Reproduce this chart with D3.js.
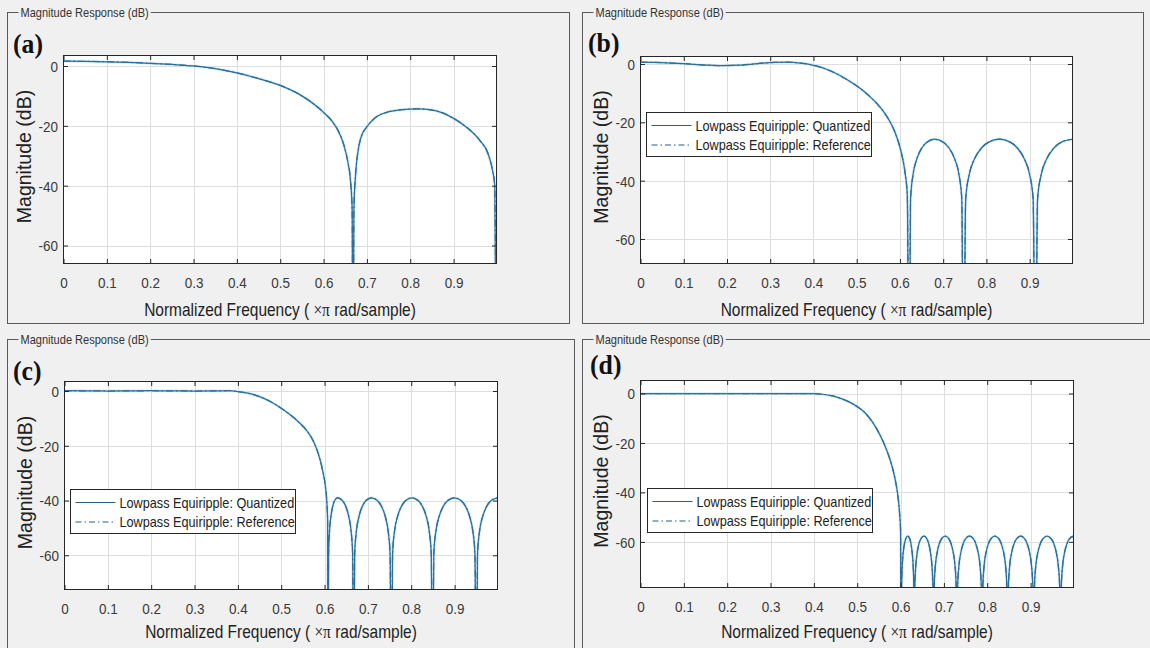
<!DOCTYPE html>
<html><head><meta charset="utf-8">
<script src="https://cdn.jsdelivr.net/npm/d3@7"></script>
<style>html,body{margin:0;padding:0;background:#f0f0f0;} svg{display:block;}</style>
</head><body>
<script>
// ---------- data ----------
const xTicks = [0, 0.1, 0.2, 0.3, 0.4, 0.5, 0.6, 0.7, 0.8, 0.9];
const xTickLabels = ["0", "0.1", "0.2", "0.3", "0.4", "0.5", "0.6", "0.7", "0.8", "0.9"];
const yTicks = [0, -20, -40, -60];
const yTickLabels = ["0", "-20", "-40", "-60"];
const panelLabels = ["(a)", "(b)", "(c)", "(d)"];
const frameTitle = "Magnitude Response (dB)";
const yAxisTitle = "Magnitude (dB)";
const legendLabels = ["Lowpass Equiripple: Quantized", "Lowpass Equiripple: Reference"];

// panel (a)
const freqA = [0, 0.05, 0.1, 0.15, 0.2, 0.25, 0.3, 0.35, 0.4, 0.45,
  0.5, 0.55, 0.6, 0.62, 0.635, 0.647, 0.656, 0.662, 0.666, 0.668,
  0.670, 0.674, 0.679, 0.686, 0.7, 0.72, 0.75, 0.78, 0.82, 0.86,
  0.9, 0.93, 0.96, 0.98, 0.99, 0.995, 0.999];
const magA = [1.6, 1.55, 1.4, 1.2, 0.9, 0.5, 0, -0.9, -2.3, -4.2,
  -6.5, -10, -15.5, -18.5, -22, -26.5, -32, -38, -48, -120,
  -48, -36, -29, -24, -20.3, -17.2, -15.3, -14.6, -14.3, -15,
  -17.5, -20.5, -24.8, -29.5, -35, -40, -120];

// panel (b)
const freqB = [0, 0.05, 0.1, 0.15, 0.19, 0.23, 0.27, 0.31, 0.34, 0.37,
  0.39, 0.41, 0.43, 0.45, 0.47, 0.49, 0.51, 0.53, 0.55, 0.565,
  0.577, 0.588, 0.598, 0.606, 0.612, 0.617, 0.621,
  0.6245, 0.6304, 0.6387, 0.6505, 0.6623, 0.680, 0.7001, 0.7135, 0.7269, 0.7363, 0.743, 0.747,
  0.752, 0.7603, 0.7719, 0.7885, 0.8051, 0.830, 0.8549, 0.8715, 0.8881, 0.8997, 0.908, 0.913,
  0.9182, 0.9268, 0.9388, 0.956, 0.9732, 0.999];
const magB = [0.6, 0.45, 0.1, -0.35, -0.55, -0.4, 0.1, 0.55, 0.6, 0.3,
  -0.1, -0.8, -1.8, -3.1, -4.7, -6.5, -8.6, -11.1, -14.1, -16.9,
  -19.8, -23.2, -27.5, -32.3, -37.5, -45, -120,
  -46.3, -37.8, -32.7, -28.8, -26.8, -25.8, -26.8, -28.8, -32.7, -37.8, -46.3, -120,
  -46.3, -37.8, -32.7, -28.8, -26.8, -25.8, -26.8, -28.8, -32.7, -37.8, -46.3, -120,
  -46.3, -37.8, -32.7, -28.8, -26.8, -25.8];

// panel (c)
const freqC = [0, 0.05, 0.1, 0.15, 0.2, 0.25, 0.3, 0.35, 0.38, 0.4,
  0.42, 0.44, 0.46, 0.48, 0.5, 0.52, 0.54, 0.56, 0.575, 0.585,
  0.595, 0.602, 0.605, 0.607, 0.608,
  0.6093, 0.6115, 0.6146, 0.619, 0.6234, 0.630, 0.6411, 0.6485, 0.6559, 0.6611, 0.6648, 0.667,
  0.6695, 0.6736, 0.6793, 0.6875, 0.6957, 0.708, 0.7218, 0.731, 0.7402, 0.7466, 0.7512, 0.754,
  0.7569, 0.7616, 0.7683, 0.7778, 0.7873, 0.8015, 0.8158, 0.8253, 0.8348, 0.8414, 0.8462, 0.849,
  0.852, 0.8571, 0.8642, 0.8743, 0.8844, 0.8995, 0.9147, 0.9248, 0.9349, 0.9419, 0.947, 0.950,
  0.9529, 0.9578, 0.9647, 0.9745, 0.9843, 0.999];
const magC = [0.1, 0.05, 0, 0.05, 0.1, 0.05, 0, 0.05, 0.1, -0.2,
  -0.7, -1.5, -2.7, -4.3, -6.3, -8.6, -11.3, -14.7, -18.6, -22.6,
  -28.6, -34.9, -40, -47, -120,
  -59.5, -51, -45.9, -42, -40, -39, -40, -42, -45.9, -51, -59.5, -120,
  -59.5, -51, -45.9, -42, -40, -39, -40, -42, -45.9, -51, -59.5, -120,
  -59.5, -51, -45.9, -42, -40, -39, -40, -42, -45.9, -51, -59.5, -120,
  -59.5, -51, -45.9, -42, -40, -39, -40, -42, -45.9, -51, -59.5, -120,
  -59.5, -51, -45.9, -42, -40, -39];

// panel (d)
const freqD = [0, 0.1, 0.2, 0.3, 0.4, 0.42, 0.44, 0.46, 0.48, 0.5,
  0.515, 0.53, 0.545, 0.56, 0.572, 0.582, 0.59, 0.595, 0.598, 0.6,
  0.6015,
  0.6024, 0.6039, 0.606, 0.609, 0.612, 0.6165, 0.621, 0.624, 0.627, 0.6291, 0.6306, 0.6315,
  0.6328, 0.6351, 0.6382, 0.6426, 0.6471, 0.6538, 0.6604, 0.6649, 0.6693, 0.6724, 0.6747, 0.676,
  0.6776, 0.6803, 0.6841, 0.6895, 0.6949, 0.703, 0.7111, 0.7165, 0.7219, 0.7257, 0.7284, 0.730,
  0.7317, 0.7346, 0.7387, 0.7445, 0.7503, 0.759, 0.7677, 0.7735, 0.7793, 0.7834, 0.7863, 0.788,
  0.7898, 0.7927, 0.7969, 0.8028, 0.8087, 0.8175, 0.8264, 0.8323, 0.8382, 0.8423, 0.8452, 0.847,
  0.8488, 0.8518, 0.856, 0.862, 0.868, 0.877, 0.886, 0.892, 0.898, 0.9022, 0.9052, 0.907,
  0.9089, 0.912, 0.9163, 0.9225, 0.9287, 0.938, 0.9473, 0.9535, 0.9597, 0.964, 0.9671, 0.969,
  0.9708, 0.9738, 0.978, 0.984, 0.99, 0.999];
const magD = [0, 0, 0, 0, 0, -0.3, -0.9, -1.9, -3.3, -5.3,
  -7.3, -10.3, -14.3, -19.5, -24.8, -30.5, -37, -43, -49, -55,
  -140,
  -78.2, -69.7, -64.6, -60.7, -58.7, -57.7, -58.7, -60.7, -64.6, -69.7, -78.2, -140,
  -78.2, -69.7, -64.6, -60.7, -58.7, -57.7, -58.7, -60.7, -64.6, -69.7, -78.2, -140,
  -78.2, -69.7, -64.6, -60.7, -58.7, -57.7, -58.7, -60.7, -64.6, -69.7, -78.2, -140,
  -78.2, -69.7, -64.6, -60.7, -58.7, -57.7, -58.7, -60.7, -64.6, -69.7, -78.2, -140,
  -78.2, -69.7, -64.6, -60.7, -58.7, -57.7, -58.7, -60.7, -64.6, -69.7, -78.2, -140,
  -78.2, -69.7, -64.6, -60.7, -58.7, -57.7, -58.7, -60.7, -64.6, -69.7, -78.2, -140,
  -78.2, -69.7, -64.6, -60.7, -58.7, -57.7, -58.7, -60.7, -64.6, -69.7, -78.2, -140,
  -78.2, -69.7, -64.6, -60.7, -58.7, -57.7];

// ---------- layout / style ----------
const W = 1150, H = 648, BG = "#f0f0f0";
const LINE = "#2c6f9a", HALO = "#cfe7f2", AXC = "#262626", GRID = "#dedede";
const SANS = "'Liberation Sans', Arial, Helvetica, sans-serif";
const SERIF = "'Liberation Serif', 'Times New Roman', serif";

const layouts = [
  { freq: freqA, mag: magA, legend: null,
    frame: {x: 7.5, y: 12.5, w: 562, h: 311}, plot: {l: 63.5, t: 55.5, r: 496.5, b: 263.5},
    yDom: [-66.0, 3.5], label: {x: 13, y: 53}, xlabBase: 316 },
  { freq: freqB, mag: magB, legend: {x: 646.5, y: 112.5},
    frame: {x: 582.5, y: 12.5, w: 561, h: 311}, plot: {l: 640.5, t: 56.5, r: 1072.5, b: 263.5},
    yDom: [-68.4, 2.57], label: {x: 588, y: 51.5}, xlabBase: 316 },
  { freq: freqC, mag: magC, legend: {x: 70.5, y: 489.5},
    frame: {x: 7.5, y: 339.5, w: 567, h: 400}, plot: {l: 64.5, t: 381.5, r: 497.5, b: 589.5},
    yDom: [-72.5, 3.47], label: {x: 13, y: 379.5}, xlabBase: 637.5 },
  { freq: freqD, mag: magD, legend: {x: 647.5, y: 488.5},
    frame: {x: 582.5, y: 339.5, w: 600, h: 400}, plot: {l: 640.5, t: 380.5, r: 1073.5, b: 587.5},
    yDom: [-78.45, 5.26], label: {x: 590, y: 373.5}, xlabBase: 637.5 }
];

const svg = d3.select("body").append("svg").attr("width", W).attr("height", H);
svg.append("rect").attr("width", W).attr("height", H).attr("fill", BG);

layouts.forEach((P, i) => {
  const g = svg.append("g");
  const p = P.plot;

  // group box frame with title
  g.append("rect").attr("x", P.frame.x).attr("y", P.frame.y)
    .attr("width", P.frame.w).attr("height", P.frame.h)
    .attr("fill", "none").attr("stroke", "#5a5a5a").attr("stroke-width", 1);
  const mask = g.append("rect").attr("x", P.frame.x + 11).attr("y", P.frame.y - 3)
    .attr("height", 6).attr("fill", BG);
  const tg = g.append("g").attr("transform", `translate(${P.frame.x + 13},${P.frame.y + 4.7}) scale(0.85,1)`);
  const tt = tg.append("text").text(frameTitle).attr("font-family", SANS)
    .attr("font-size", 13).attr("fill", "#333");
  mask.attr("width", tt.node().getComputedTextLength() * 0.85 + 4);

  // panel label
  g.append("g").attr("transform", `translate(${P.label.x},${P.label.y}) scale(0.92,1)`)
    .append("text").text(panelLabels[i]).attr("font-family", SERIF)
    .attr("font-weight", "bold").attr("font-size", 28).attr("fill", "#111");

  // scales
  const x = d3.scaleLinear().domain([0, 0.999]).range([p.l, p.r]);
  const y = d3.scaleLinear().domain(P.yDom).range([p.b, p.t]);

  // plot background
  g.append("rect").attr("x", p.l).attr("y", p.t).attr("width", p.r - p.l)
    .attr("height", p.b - p.t).attr("fill", "#fff");

  // grid
  g.append("g").selectAll("line").data(xTicks.slice(1)).join("line")
    .attr("x1", d => Math.round(x(d)) + 0.5).attr("x2", d => Math.round(x(d)) + 0.5)
    .attr("y1", p.t).attr("y2", p.b).attr("stroke", GRID).attr("stroke-width", 1);
  g.append("g").selectAll("line").data(yTicks).join("line")
    .attr("y1", d => Math.round(y(d)) + 0.5).attr("y2", d => Math.round(y(d)) + 0.5)
    .attr("x1", p.l).attr("x2", p.r).attr("stroke", GRID).attr("stroke-width", 1);

  // curves (clipped)
  const cid = "clip" + i;
  svg.append("defs").append("clipPath").attr("id", cid).append("rect")
    .attr("x", p.l).attr("y", p.t).attr("width", p.r - p.l).attr("height", p.b - p.t);
  const pts = d3.zip(P.freq, P.mag);
  const line = d3.line().x(d => x(d[0])).y(d => y(d[1])).curve(d3.curveMonotoneX);
  const cg = g.append("g").attr("clip-path", `url(#${cid})`);
  cg.append("path").attr("d", line(pts)).attr("fill", "none")
    .attr("stroke", HALO).attr("stroke-width", 3.2).attr("stroke-opacity", 0.6);
  // reference (dash-dot) and quantized (solid) coincide
  cg.append("path").attr("d", line(pts)).attr("fill", "none")
    .attr("stroke", LINE).attr("stroke-width", 1.25).attr("stroke-dasharray", "7,3,1.5,3");
  cg.append("path").attr("d", line(pts)).attr("fill", "none")
    .attr("stroke", LINE).attr("stroke-width", 1.25);

  // axes with inward ticks on all four sides
  const TS = 4.5;
  const styleAxis = (ag) => {
    ag.select(".domain").remove();
    ag.selectAll(".tick line").attr("stroke", AXC);
    ag.attr("font-family", SANS);
  };
  const xb = g.append("g").attr("transform", `translate(0,${p.b})`)
    .call(d3.axisBottom(x).tickValues(xTicks).tickSize(-TS).tickSizeOuter(0)
      .tickFormat((d, k) => xTickLabels[k]));
  styleAxis(xb);
  xb.selectAll(".tick text").attr("y", 24.5).attr("dy", null).attr("font-size", 15)
    .attr("fill", "#3a3a3a").attr("transform", "scale(0.9,1)");
  const xt = g.append("g").attr("transform", `translate(0,${p.t})`)
    .call(d3.axisTop(x).tickValues(xTicks).tickSize(-TS).tickSizeOuter(0).tickFormat(""));
  styleAxis(xt);
  const yl = g.append("g").attr("transform", `translate(${p.l},0)`)
    .call(d3.axisLeft(y).tickValues(yTicks).tickSize(-TS).tickSizeOuter(0)
      .tickFormat((d, k) => yTickLabels[k]));
  styleAxis(yl);
  yl.selectAll(".tick text").attr("x", -6).attr("dy", "0.36em").attr("font-size", 15)
    .attr("fill", "#3a3a3a").attr("transform", "scale(0.9,1)");
  const yr = g.append("g").attr("transform", `translate(${p.r},0)`)
    .call(d3.axisRight(y).tickValues(yTicks).tickSize(-TS).tickSizeOuter(0).tickFormat(""));
  styleAxis(yr);

  // axes box
  g.append("rect").attr("x", p.l).attr("y", p.t).attr("width", p.r - p.l)
    .attr("height", p.b - p.t).attr("fill", "none").attr("stroke", AXC).attr("stroke-width", 1);

  // x label
  const xlg = g.append("g").attr("transform", `translate(${(p.l + p.r) / 2},${P.xlabBase}) scale(0.86,1)`);
  const xl = xlg.append("text").attr("text-anchor", "middle").attr("font-family", SANS)
    .attr("font-size", 18).attr("fill", "#222");
  xl.append("tspan").text("Normalized Frequency ( ");
  xl.append("tspan").text("\u00d7\u03c0").attr("font-family", SERIF);
  xl.append("tspan").text(" rad/sample)");

  // y label
  g.append("text").attr("transform", `translate(${p.l - 33},${(p.t + p.b) / 2 - 3}) rotate(-90)`)
    .attr("text-anchor", "middle").attr("font-family", SANS).attr("font-size", 19.5)
    .attr("fill", "#222").text(yAxisTitle);

  // legend
  if (P.legend) {
    const L = P.legend;
    const lg = g.append("g").attr("transform", `translate(${L.x},${L.y})`);
    lg.append("rect").attr("width", 225).attr("height", 44).attr("fill", "#fff")
      .attr("stroke", AXC).attr("stroke-width", 1);
    const rows = [13, 32.5];
    legendLabels.forEach((lab, k) => {
      lg.append("line").attr("x1", 5).attr("x2", 45).attr("y1", rows[k]).attr("y2", rows[k])
        .attr("stroke", "#2a5f80").attr("stroke-width", 1.2)
        .attr("stroke-dasharray", k === 0 ? null : "6,3,1.5,3");
      lg.append("g").attr("transform", `translate(49,${rows[k] + 5.4}) scale(0.846,1)`)
        .append("text").text(lab).attr("font-family", SANS).attr("font-size", 15).attr("fill", "#222");
    });
  }
});
</script>
</body></html>
